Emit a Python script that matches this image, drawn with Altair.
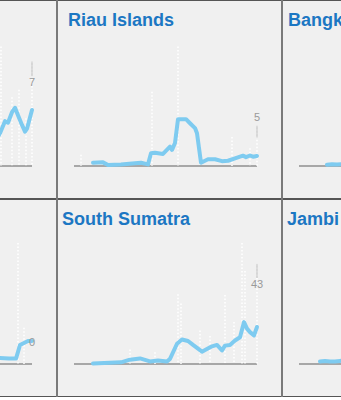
import altair as alt
import pandas as pd

# ---------------- data ----------------
DAY_START, DAY_END = 0, 183

# top-left panel (cropped)
lt_avg_days = [140, 146, 151, 156, 159, 163, 166, 169, 173, 176, 178, 183]
lt_avg_vals = [1.0, 1.6, 2.2, 3.0, 2.9, 3.6, 3.9, 3.4, 2.75, 2.3, 2.5, 3.75]
lt_daily_days = [152, 163, 170, 177]
lt_daily_vals = [8.0, 4.6, 5.1, 3.2]

# Riau Islands
ri_avg_days = [19, 29, 34, 47, 61, 67, 74, 77, 81, 89, 96, 98, 101, 104, 112, 116,
               121, 123, 127, 134, 141, 148, 154, 161, 169, 172, 176, 179, 183]
ri_avg_vals = [0.4, 0.45, 0.12, 0.2, 0.33, 0.4, 0.2, 1.57, 1.65, 1.5, 2.4, 2.0, 2.85,
               5.8, 5.8, 5.3, 4.7, 4.05, 0.4, 0.83, 0.83, 0.6, 0.65, 0.95, 1.28, 1.1,
               1.3, 1.15, 1.25]
ri_daily_days = [7, 78, 104, 126, 158, 176]
ri_daily_vals = [1.4, 9.2, 14.8, 2.5, 3.6, 2.2]

# Bangka Belitung (cropped)
bb_avg_days = [28, 33, 38, 43, 48]
bb_avg_vals = [0.1, 0.15, 0.12, 0.15, 0.2]

# bottom-left panel (cropped)
lb_avg_days = [140, 150, 160, 167, 169, 171, 174, 179, 183]
lb_avg_vals = [0.45, 0.5, 0.45, 0.45, 1.0, 1.57, 1.7, 1.9, 1.9]
lb_daily_days = [169, 175]
lb_daily_vals = [10.0, 3.0]

# South Sumatra
ss_avg_days = [19, 47, 56, 66, 76, 84, 93, 96, 103, 108, 114, 119, 128, 132, 138, 143,
               148, 151, 156, 161, 166, 170, 173, 176, 180, 183]
ss_avg_vals = [0.26, 0.7, 1.86, 2.4, 1.1, 1.5, 1.1, 2.2, 8.7, 10.5, 9.9, 8.2, 5.3, 6.2,
               7.6, 8.2, 5.8, 7.9, 8.2, 10.1, 11.5, 18.0, 15.2, 13.7, 12.3, 15.9]
ss_daily_days = [56, 81, 104, 107, 126, 136, 151, 160, 168, 171]
ss_daily_vals = [6.2, 5.0, 30.0, 26.0, 14.4, 12.0, 29.6, 18.0, 52.0, 40.0]

# Jambi (cropped)
ja_avg_days = [21, 26, 31, 36, 41, 46]
ja_avg_vals = [0.2, 0.25, 0.2, 0.2, 0.25, 0.3]

PANELS = [
    # row 1
    dict(title=None, avg_days=lt_avg_days, avg_vals=lt_avg_vals,
         daily_days=lt_daily_days, daily_vals=lt_daily_vals, last=7, label="7", ymax=8.1),
    dict(title="Riau Islands", avg_days=ri_avg_days, avg_vals=ri_avg_vals,
         daily_days=ri_daily_days, daily_vals=ri_daily_vals, last=5, label="5", ymax=15),
    dict(title="Bangka Belitung", avg_days=bb_avg_days, avg_vals=bb_avg_vals,
         daily_days=[], daily_vals=[], last=None, label=None, ymax=10),
    # row 2
    dict(title=None, avg_days=lb_avg_days, avg_vals=lb_avg_vals,
         daily_days=lb_daily_days, daily_vals=lb_daily_vals, last=0, label="0", ymax=10),
    dict(title="South Sumatra", avg_days=ss_avg_days, avg_vals=ss_avg_vals,
         daily_days=ss_daily_days, daily_vals=ss_daily_vals, last=43, label="43", ymax=52),
    dict(title="Jambi", avg_days=ja_avg_days, avg_vals=ja_avg_vals,
         daily_days=[], daily_vals=[], last=None, label=None, ymax=10),
]

# ---------------- styling / layout ----------------
BG = "#f0f0f0"
LINE_BLUE = "#7ecbf0"
TITLE_BLUE = "#1c77c3"
H_BORDER = "#555555"
V_BORDER = "#7a7a7a"

COL_W = [57, 225, 59]
COL_XDOM = [[151, 208], [-17, 208], [-17, 42]]
ROW_H = [199, 198]
ROW_BASE = [166, 165]   # pixel row of the zero line inside a panel
ROW_TOP = [45, 44]      # pixel row reached by the panel maximum

# per panel style: title x offset, label dy, tick length
STYLE = [
    dict(title_x=6, label_dy=25, tick=15),
    dict(title_x=11, label_dy=-5, tick=12),
    dict(title_x=6, label_dy=0, tick=0),
    dict(title_x=6, label_dy=-18, tick=0),
    dict(title_x=5, label_dy=24, tick=14),
    dict(title_x=5, label_dy=0, tick=0),
]


def make_panel(p, st, col, row):
    width, height = COL_W[col], ROW_H[row]
    base, top = ROW_BASE[row], ROW_TOP[row]
    m = p["ymax"]
    span = base - top
    ydom = [-m * (height - base) / span, m * base / span]
    xs = alt.Scale(domain=COL_XDOM[col], nice=False)
    ys = alt.Scale(domain=ydom, nice=False, zero=False)
    one = pd.DataFrame({"k": [0]})
    layers = []

    base_df = pd.DataFrame({"start": [DAY_START], "end": [DAY_END]})
    layers.append(
        alt.Chart(base_df).mark_rule(color="#5e5e5e", strokeWidth=1.2, clip=True).encode(
            x=alt.X("start:Q", scale=xs, axis=None),
            x2="end:Q",
            y=alt.YDatum(0, scale=ys, axis=None),
        )
    )

    ddays = list(p["daily_days"])
    dvals = list(p["daily_vals"])
    if p["last"] is not None:
        ddays.append(DAY_END)
        dvals.append(p["last"])
    if ddays:
        daily_df = pd.DataFrame({"day": ddays, "value": dvals})
        layers.append(
            alt.Chart(daily_df).mark_rule(color="white", strokeWidth=1.5,
                                          strokeDash=[1.5, 2], clip=True).encode(
                x=alt.X("day:Q", scale=xs, axis=None),
                y=alt.Y("value:Q", scale=ys, axis=None),
                y2=alt.Y2Datum(0),
            )
        )

    line_df = pd.DataFrame({"day": p["avg_days"], "value": p["avg_vals"]})
    layers.append(
        alt.Chart(line_df).mark_line(color=LINE_BLUE, strokeWidth=4, strokeJoin="round",
                                     strokeCap="round", clip=True).encode(
            x=alt.X("day:Q", scale=xs, axis=None),
            y=alt.Y("value:Q", scale=ys, axis=None),
        )
    )

    if p["label"] is not None:
        last_df = pd.DataFrame({"day": [DAY_END], "value": [p["last"]], "label": [p["label"]]})
        if st["tick"] > 0:
            layers.append(
                alt.Chart(last_df).mark_rule(color="#bdbdbd", strokeWidth=1,
                                             y2Offset=st["tick"], clip=True).encode(
                    x=alt.X("day:Q", scale=xs, axis=None),
                    y=alt.Y("value:Q", scale=ys, axis=None),
                    y2="value:Q",
                )
            )
        layers.append(
            alt.Chart(last_df).mark_text(color="#9a9a9a", fontSize=11, font="Liberation Sans",
                                         align="center", baseline="alphabetic",
                                         dy=st["label_dy"], clip=True).encode(
                x=alt.X("day:Q", scale=xs, axis=None),
                y=alt.Y("value:Q", scale=ys, axis=None),
                text="label:N",
            )
        )

    if p["title"] is not None:
        layers.append(
            alt.Chart(one).mark_text(color=TITLE_BLUE, fontSize=18, fontWeight="bold",
                                     font="Liberation Sans", align="left",
                                     baseline="alphabetic", clip=True).encode(
                x=alt.value(st["title_x"]),
                y=alt.value(26),
                text=alt.value(p["title"]),
            )
        )

    # borders
    borders = [
        dict(x=alt.value(0), x2=alt.value(width), y=alt.value(0), c=H_BORDER),
        dict(x=alt.value(0), x2=alt.value(width), y=alt.value(height), c=H_BORDER),
    ]
    if col > 0:
        borders.append(dict(x=alt.value(0), y=alt.value(0), y2=alt.value(height), c=V_BORDER))
    if col < 2:
        borders.append(dict(x=alt.value(width), y=alt.value(0), y2=alt.value(height), c=V_BORDER))
    for b in borders:
        c = b.pop("c")
        layers.append(
            alt.Chart(one).mark_rule(color=c, strokeWidth=2, clip=True).encode(**b)
        )

    return alt.layer(*layers).properties(width=width, height=height)


rows = []
for r in range(2):
    cells = [make_panel(PANELS[r * 3 + c], STYLE[r * 3 + c], c, r) for c in range(3)]
    rows.append(
        alt.hconcat(*cells, spacing=0).resolve_scale(x="independent", y="independent")
    )

chart = (
    alt.vconcat(*rows, spacing=0)
    .resolve_scale(x="independent", y="independent")
    .properties(padding=0, background="white")
    .configure_view(strokeWidth=0, fill=BG)
)

chart.save("out.html", embed_options={"renderer": "svg", "actions": False})
